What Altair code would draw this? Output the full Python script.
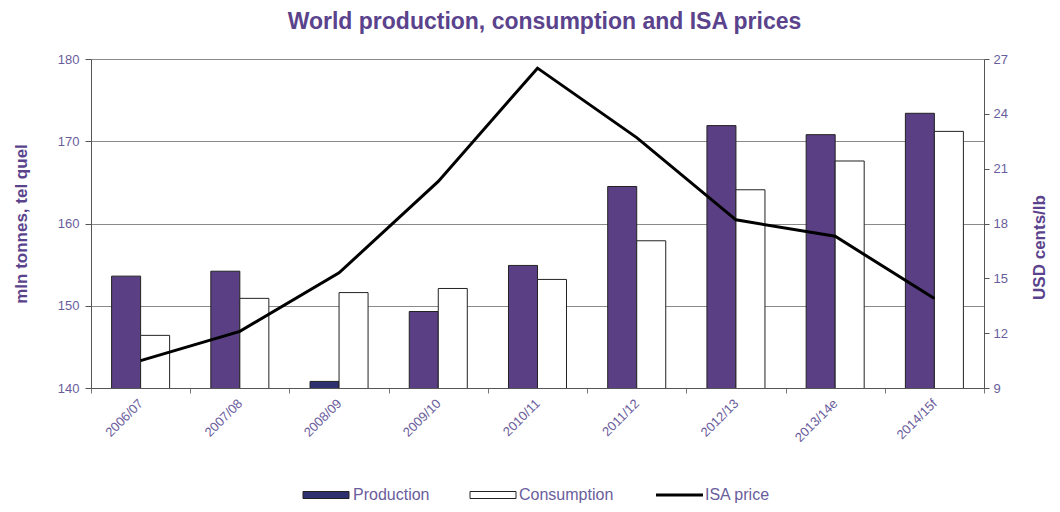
import altair as alt
import pandas as pd

# ---- data ----
seasons = ["2006/07", "2007/08", "2008/09", "2009/10", "2010/11",
           "2011/12", "2012/13", "2013/14e", "2014/15f"]
production = [153.6, 154.2, 140.8, 149.3, 154.9, 164.5, 171.9, 170.8, 173.4]
consumption = [146.4, 150.9, 151.6, 152.1, 153.2, 157.9, 164.1, 167.6, 171.2]
isa_price = [10.5, 12.1, 15.3, 20.3, 26.5, 22.7, 18.2, 17.3, 13.9]
series_names = ["Production", "Consumption"]
legend_labels = ["Production", "Consumption", "ISA price"]
left_ticks = [140, 150, 160, 170, 180]
right_ticks = [9, 12, 15, 18, 21, 24, 27]

FONT = "Liberation Sans"
PURPLE = "#5b3f84"
NAVY = "#2e3070"
TEXT = "#6a5d9c"
TITLE = "#5a438c"

rows = []
for i, s in enumerate(seasons):
    rows.append({"season": s, "series": series_names[0], "value": production[i]})
    rows.append({"season": s, "series": series_names[1], "value": consumption[i]})
bars_df = pd.DataFrame(rows)
line_df = pd.DataFrame({"season": seasons, "price": isa_price})

x_scale = alt.Scale(domain=seasons, paddingInner=0, paddingOuter=0)
x_axis = alt.Axis(title=None, labelAngle=-45, labelAlign="right", labelBaseline="middle",
                  labelFontSize=13, labelColor=TEXT, labelFont=FONT, labelPadding=8,
                  tickBand="extent", tickSize=5, tickColor="#777", domainColor="#555",
                  grid=False)

bar_color = (alt.when(alt.datum.series == "Consumption").then(alt.value("white"))
             .when(alt.datum.value < 145).then(alt.value(NAVY))
             .otherwise(alt.value(PURPLE)))

bars = alt.Chart(bars_df).mark_bar(stroke="#222", strokeWidth=1, clip=True).encode(
    x=alt.X("season:N", scale=x_scale, axis=x_axis, sort=seasons),
    xOffset=alt.XOffset("series:N", sort=series_names,
                        scale=alt.Scale(domain=series_names, paddingInner=0, paddingOuter=0.71)),
    y=alt.Y("value:Q", scale=alt.Scale(domain=[140, 180], nice=False, zero=False),
            axis=alt.Axis(values=left_ticks, title="mln tonnes, tel quel", orient="left",
                          titleFontSize=17, titleFontWeight="bold", titleColor=TITLE, titleFont=FONT,
                          titlePadding=27, labelFontSize=13, labelColor=TEXT, labelFont=FONT,
                          labelPadding=6, tickSize=6, tickColor="#555", domainColor="#555",
                          grid=True, gridColor="#8a8a8a", gridWidth=1)),
    color=bar_color,
)

line = alt.Chart(line_df).mark_line(color="black", strokeWidth=3).encode(
    x=alt.X("season:N", scale=x_scale, sort=seasons, axis=x_axis),
    y=alt.Y("price:Q", scale=alt.Scale(domain=[9, 27], nice=False, zero=False),
            axis=alt.Axis(values=right_ticks, title="USD cents/lb", orient="right",
                          titleFontSize=17, titleFontWeight="bold", titleColor=TITLE, titleFont=FONT,
                          titlePadding=41, titleAngle=-90, titleY=188,
                          labelFontSize=13, labelColor=TEXT, labelFont=FONT,
                          labelPadding=4, tickSize=5, tickColor="#555", domainColor="#555",
                          grid=False)),
)

one = alt.Data(values=[{"k": 0}])
LY = 436
leg_prod = alt.Chart(one).mark_rect(fill=NAVY, stroke="#222", strokeWidth=1).encode(
    x=alt.value(212), x2=alt.value(258), y=alt.value(LY - 3.5), y2=alt.value(LY + 3.5))
leg_cons = alt.Chart(one).mark_rect(fill="white", stroke="#222", strokeWidth=1).encode(
    x=alt.value(379), x2=alt.value(425), y=alt.value(LY - 3.5), y2=alt.value(LY + 3.5))
leg_line = alt.Chart(one).mark_rule(color="black", strokeWidth=3).encode(
    x=alt.value(565), x2=alt.value(612), y=alt.value(LY))
leg_texts = [
    alt.Chart(one).mark_text(align="left", baseline="middle", fontSize=16, font=FONT,
                             color=TEXT).encode(x=alt.value(xp), y=alt.value(LY), text=alt.value(lbl))
    for xp, lbl in zip([262, 428, 614], legend_labels)
]

chart = alt.layer(bars, line, leg_prod, leg_cons, leg_line, *leg_texts).resolve_scale(
    y="independent"
).properties(
    width=893, height=329,
    autosize=alt.AutoSizeParams(type="none"),
    padding={"left": 83, "top": 51, "right": 68, "bottom": 116},
    title=alt.TitleParams("World production, consumption and ISA prices", fontSize=23,
                          fontWeight="bold", color=TITLE, font=FONT, anchor="middle",
                          dx=7, offset=19),
).configure_view(stroke="#888", strokeWidth=1).configure(background="white")

chart.save("out.html", embed_options={"renderer": "svg", "actions": False})
